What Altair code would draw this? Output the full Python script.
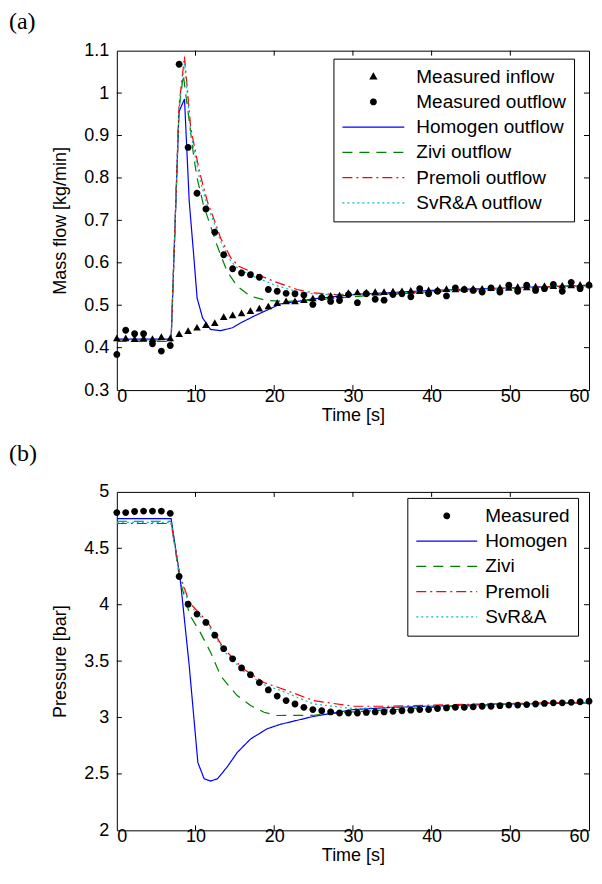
import altair as alt
import pandas as pd

# ---------------- data ----------------
T = [0.0, 1.13, 2.26, 3.40, 4.53, 5.66, 6.79, 7.92, 9.06, 10.19, 11.32, 12.45, 13.58,
     14.72, 15.85, 16.98, 18.11, 19.25, 20.38, 21.51, 22.64, 23.77, 24.91, 26.04, 27.17,
     28.30, 29.43, 30.57, 31.70, 32.83, 33.96, 35.09, 36.23, 37.36, 38.49, 39.62, 40.75,
     41.89, 43.02, 44.15, 45.28, 46.42, 47.55, 48.68, 49.81, 50.94, 52.08, 53.21, 54.34,
     55.47, 56.60, 57.74, 58.87, 60.0]

INFLOW = [0.422, 0.422, 0.420, 0.422, 0.420, 0.425, 0.422, 0.432, 0.439, 0.447, 0.453, 0.458,
          0.472, 0.476, 0.481, 0.486, 0.492, 0.497, 0.505, 0.509, 0.509, 0.512, 0.516, 0.519,
          0.522, 0.523, 0.529, 0.530, 0.530, 0.531, 0.531, 0.532, 0.533, 0.534, 0.533, 0.535,
          0.536, 0.538, 0.537, 0.538, 0.539, 0.539, 0.540, 0.541, 0.541, 0.543, 0.542, 0.544,
          0.545, 0.545, 0.546, 0.547, 0.548, 0.549]

OUTFLOW = [0.384, 0.441, 0.433, 0.433, 0.409, 0.392, 0.405, 1.068, 0.872, 0.764, 0.727, 0.672,
           0.619, 0.586, 0.576, 0.572, 0.566, 0.537, 0.533, 0.528, 0.527, 0.524, 0.502, 0.518,
           0.509, 0.511, 0.525, 0.506, 0.527, 0.514, 0.512, 0.525, 0.527, 0.520, 0.539, 0.527,
           0.533, 0.522, 0.541, 0.537, 0.535, 0.531, 0.541, 0.531, 0.547, 0.533, 0.547, 0.535,
           0.539, 0.549, 0.533, 0.554, 0.539, 0.547]

PRESSURE = [4.817, 4.817, 4.826, 4.830, 4.830, 4.830, 4.810, 4.250, 4.005, 3.917, 3.843, 3.730,
            3.610, 3.520, 3.440, 3.380, 3.310, 3.245, 3.190, 3.150, 3.120, 3.090, 3.070, 3.060,
            3.050, 3.040, 3.040, 3.040, 3.045, 3.050, 3.050, 3.055, 3.060, 3.065, 3.070, 3.070,
            3.080, 3.085, 3.090, 3.090, 3.095, 3.100, 3.100, 3.105, 3.110, 3.110, 3.115, 3.120,
            3.125, 3.130, 3.130, 3.135, 3.140, 3.145]

# panel (a) model outflows
HOM_A_T = [0, 6.9, 7.9, 8.6, 9.2, 9.8, 10.2, 10.9, 11.9, 13.2, 14.7, 15.7, 17.4, 20.8, 25.0, 30, 40, 50, 60]
HOM_A_V = [0.420, 0.420, 0.956, 0.986, 0.745, 0.611, 0.517, 0.470, 0.443, 0.440, 0.447, 0.458,
           0.474, 0.503, 0.515, 0.525, 0.535, 0.541, 0.547]
ZIV_A_T = [0, 6.9, 7.9, 8.45, 9.8, 10.2, 11.0, 12.7, 14.0, 15.3, 17.0, 19.1, 21.6, 25, 30, 40, 50, 60]
ZIV_A_V = [0.418, 0.418, 0.960, 1.043, 0.847, 0.800, 0.737, 0.643, 0.580, 0.545, 0.521, 0.511,
           0.509, 0.512, 0.520, 0.532, 0.540, 0.546]
PRE_A_T = [0, 6.9, 7.9, 8.6, 9.4, 10.5, 11.5, 12.4, 13.2, 14.5, 15.5, 17.4, 20.0, 22.9, 25.0, 28, 35, 45, 60]
PRE_A_V = [0.415, 0.415, 0.970, 1.086, 0.917, 0.815, 0.745, 0.700, 0.658, 0.611, 0.592, 0.576,
           0.556, 0.537, 0.529, 0.525, 0.528, 0.537, 0.547]
SVR_A_T = [0, 6.9, 7.9, 8.6, 9.4, 10.5, 11.5, 12.4, 13.2, 14.5, 15.5, 17.4, 20.0, 22.9, 25.0, 28, 35, 45, 60]
SVR_A_V = [0.418, 0.418, 0.965, 1.070, 0.905, 0.800, 0.735, 0.693, 0.650, 0.603, 0.585, 0.568,
           0.548, 0.532, 0.527, 0.524, 0.528, 0.537, 0.547]

# panel (b) model pressures
HOM_B_T = [0, 6.9, 8.1, 9.2, 10.3, 11.1, 11.9, 12.8, 14.0, 15.3, 17.0, 19.1, 20.8, 25, 30, 35, 40, 50, 60]
HOM_B_V = [4.764, 4.764, 4.200, 3.460, 2.600, 2.457, 2.437, 2.457, 2.560, 2.690, 2.810, 2.900,
           2.940, 3.010, 3.070, 3.090, 3.100, 3.120, 3.130]
ZIV_B_T = [0, 6.9, 8.0, 9.3, 10.6, 11.9, 13.2, 14.0, 15.3, 17.0, 18.7, 20.4, 25, 30, 40, 50, 60]
ZIV_B_V = [4.740, 4.740, 4.220, 3.905, 3.755, 3.580, 3.370, 3.300, 3.195, 3.106, 3.047, 3.018,
           3.020, 3.050, 3.090, 3.120, 3.130]
PRE_B_T = [0, 6.9, 8.0, 9.2, 11.5, 13.6, 16.1, 18.7, 20.8, 25, 30, 35, 40, 50, 60]
PRE_B_V = [4.720, 4.720, 4.270, 4.020, 3.850, 3.610, 3.430, 3.310, 3.260, 3.150, 3.100, 3.100,
           3.110, 3.125, 3.135]
SVR_B_T = [0, 6.9, 8.0, 9.2, 11.5, 13.6, 16.1, 18.7, 20.8, 25, 30, 35, 40, 50, 60]
SVR_B_V = [4.730, 4.730, 4.250, 4.000, 3.830, 3.590, 3.410, 3.290, 3.240, 3.120, 3.080, 3.090,
           3.100, 3.120, 3.130]

NAMES_A = ["Measured inflow", "Measured outflow", "Homogen outflow", "Zivi outflow",
           "Premoli outflow", "SvR&A outflow"]
NAMES_B = ["Measured", "Homogen", "Zivi", "Premoli", "SvR&A"]

X_TICKS = [0, 10, 20, 30, 40, 50, 60]
Y_TICKS_A = [0.3, 0.4, 0.5, 0.6, 0.7, 0.8, 0.9, 1.0, 1.1]
Y_TICKS_B = [2.0, 2.5, 3.0, 3.5, 4.0, 4.5, 5.0]

# ---------------- styles ----------------
FONT = "Liberation Sans"
BLACK, BLUE, GREEN, RED, CYAN = "#000000", "#0000FF", "#008000", "#FF0000", "#00BFBF"
SOLID, DASH, DASHDOT, DOT = [1, 0], [10, 7], [10, 4, 2, 4], [2, 3]
TRI = "M0,-0.1L0.1,0.075L-0.1,0.075Z"
CIRC = "M0.09,0A0.09,0.09 0 1,1 -0.09,0A0.09,0.09 0 1,1 0.09,0Z"
W = 473


def frame(pairs):
    rows = []
    for name, ts, vs in pairs:
        for t, v in zip(ts, vs):
            rows.append({"series": name, "t": t, "v": v})
    return pd.DataFrame(rows)


def panel(points, lines, names, shapes, colors, dashes, symsize,
          ydom, yticks, ytitle, lx, ly, lab_off, label, label_y, h):
    leg = alt.Legend(title=None, orient="none", legendX=lx, legendY=ly,
                     clipHeight=20, rowPadding=5.3, padding=8,
                     strokeColor="black", fillColor="white",
                     labelFont=FONT, labelFontSize=19, labelColor="black",
                     labelOffset=lab_off, symbolStrokeWidth=1.3, symbolOpacity=1,
                     symbolSize=symsize, labelLimit=400)
    x = alt.X("t:Q", scale=alt.Scale(domain=[0, 60], nice=False, zero=False),
              axis=alt.Axis(values=X_TICKS, title="Time [s]", labelPadding=-3,
                            titlePadding=1))
    y = alt.Y("v:Q", scale=alt.Scale(domain=ydom, nice=False, zero=False),
              axis=alt.Axis(values=yticks, title=ytitle, labelPadding=8,
                            titlePadding=14, format="~g"))
    pts_df = frame(points)
    ln_df = frame(lines)
    line_layer = alt.Chart(ln_df).mark_line(strokeWidth=1.2, clip=True).encode(
        x=x, y=y,
        stroke=alt.Stroke("series:N", scale=alt.Scale(domain=names, range=colors), legend=leg),
        strokeDash=alt.StrokeDash("series:N", scale=alt.Scale(domain=names, range=dashes), legend=leg),
    )
    pt_layer = alt.Chart(pts_df).mark_point(filled=True, opacity=1).encode(
        x=x, y=y,
        fill=alt.Fill("series:N", scale=alt.Scale(domain=names, range=colors), legend=leg),
        shape=alt.Shape("series:N", scale=alt.Scale(domain=names, range=shapes), legend=leg),
        size=alt.value(5776),
    )
    xt = pd.DataFrame({"t": X_TICKS[1:-1]})
    yt = pd.DataFrame({"v": yticks[1:-1]})
    ticks = [
        alt.Chart(xt).mark_rule(color="black", strokeWidth=1).encode(x=x, y=alt.value(h), y2=alt.value(h - 5)),
        alt.Chart(xt).mark_rule(color="black", strokeWidth=1).encode(x=x, y=alt.value(0), y2=alt.value(5)),
        alt.Chart(yt).mark_rule(color="black", strokeWidth=1).encode(y=y, x=alt.value(0), x2=alt.value(5)),
        alt.Chart(yt).mark_rule(color="black", strokeWidth=1).encode(y=y, x=alt.value(W), x2=alt.value(W - 5)),
    ]
    lab = alt.Chart(pd.DataFrame({"lab": [label]})).mark_text(
        font="Liberation Serif", fontSize=24, align="left", baseline="middle", color="black"
    ).encode(text="lab:N", x=alt.value(-108), y=alt.value(label_y))
    return alt.layer(line_layer, pt_layer, *ticks, lab).properties(width=W, height=h)


top = panel(
    points=[("Measured inflow", T, INFLOW), ("Measured outflow", T, OUTFLOW)],
    lines=[("Homogen outflow", HOM_A_T, HOM_A_V), ("Zivi outflow", ZIV_A_T, ZIV_A_V),
           ("Premoli outflow", PRE_A_T, PRE_A_V), ("SvR&A outflow", SVR_A_T, SVR_A_V)],
    names=NAMES_A,
    shapes=[TRI, CIRC, "stroke", "stroke", "stroke", "stroke"],
    colors=[BLACK, BLACK, BLUE, GREEN, RED, CYAN],
    dashes=[SOLID, SOLID, SOLID, DASH, DASHDOT, DOT],
    symsize=3844,
    ydom=[0.3, 1.1], yticks=Y_TICKS_A, ytitle="Mass flow [kg/min]",
    lx=217, ly=8, lab_off=11, label="(a)", label_y=-29, h=340,
)

bottom = panel(
    points=[("Measured", T, PRESSURE)],
    lines=[("Homogen", HOM_B_T, HOM_B_V), ("Zivi", ZIV_B_T, ZIV_B_V),
           ("Premoli", PRE_B_T, PRE_B_V), ("SvR&A", SVR_B_T, SVR_B_V)],
    names=NAMES_B,
    shapes=[CIRC, "stroke", "stroke", "stroke", "stroke"],
    colors=[BLACK, BLUE, GREEN, RED, CYAN],
    dashes=[SOLID, SOLID, DASH, DASHDOT, DOT],
    symsize=3721,
    ydom=[2, 5], yticks=Y_TICKS_B, ytitle="Pressure [bar]",
    lx=291, ly=6, lab_off=7, label="(b)", label_y=-38, h=339,
)

chart = alt.vconcat(top, bottom, spacing=16).properties(padding=0).resolve_scale(
    fill="independent", stroke="independent", shape="independent", strokeDash="independent"
).resolve_legend(
    fill="independent", stroke="independent", shape="independent", strokeDash="independent"
).configure_view(
    stroke="black", strokeWidth=1
).configure_axis(
    domain=False, ticks=False, tickSize=0, grid=False,
    labelFont=FONT, labelFontSize=18, labelColor="black",
    titleFont=FONT, titleFontSize=18, titleFontWeight="normal", titleColor="black",
).configure_legend(strokeWidth=1)

chart.save("out.html", embed_options={"renderer": "svg", "actions": False})
